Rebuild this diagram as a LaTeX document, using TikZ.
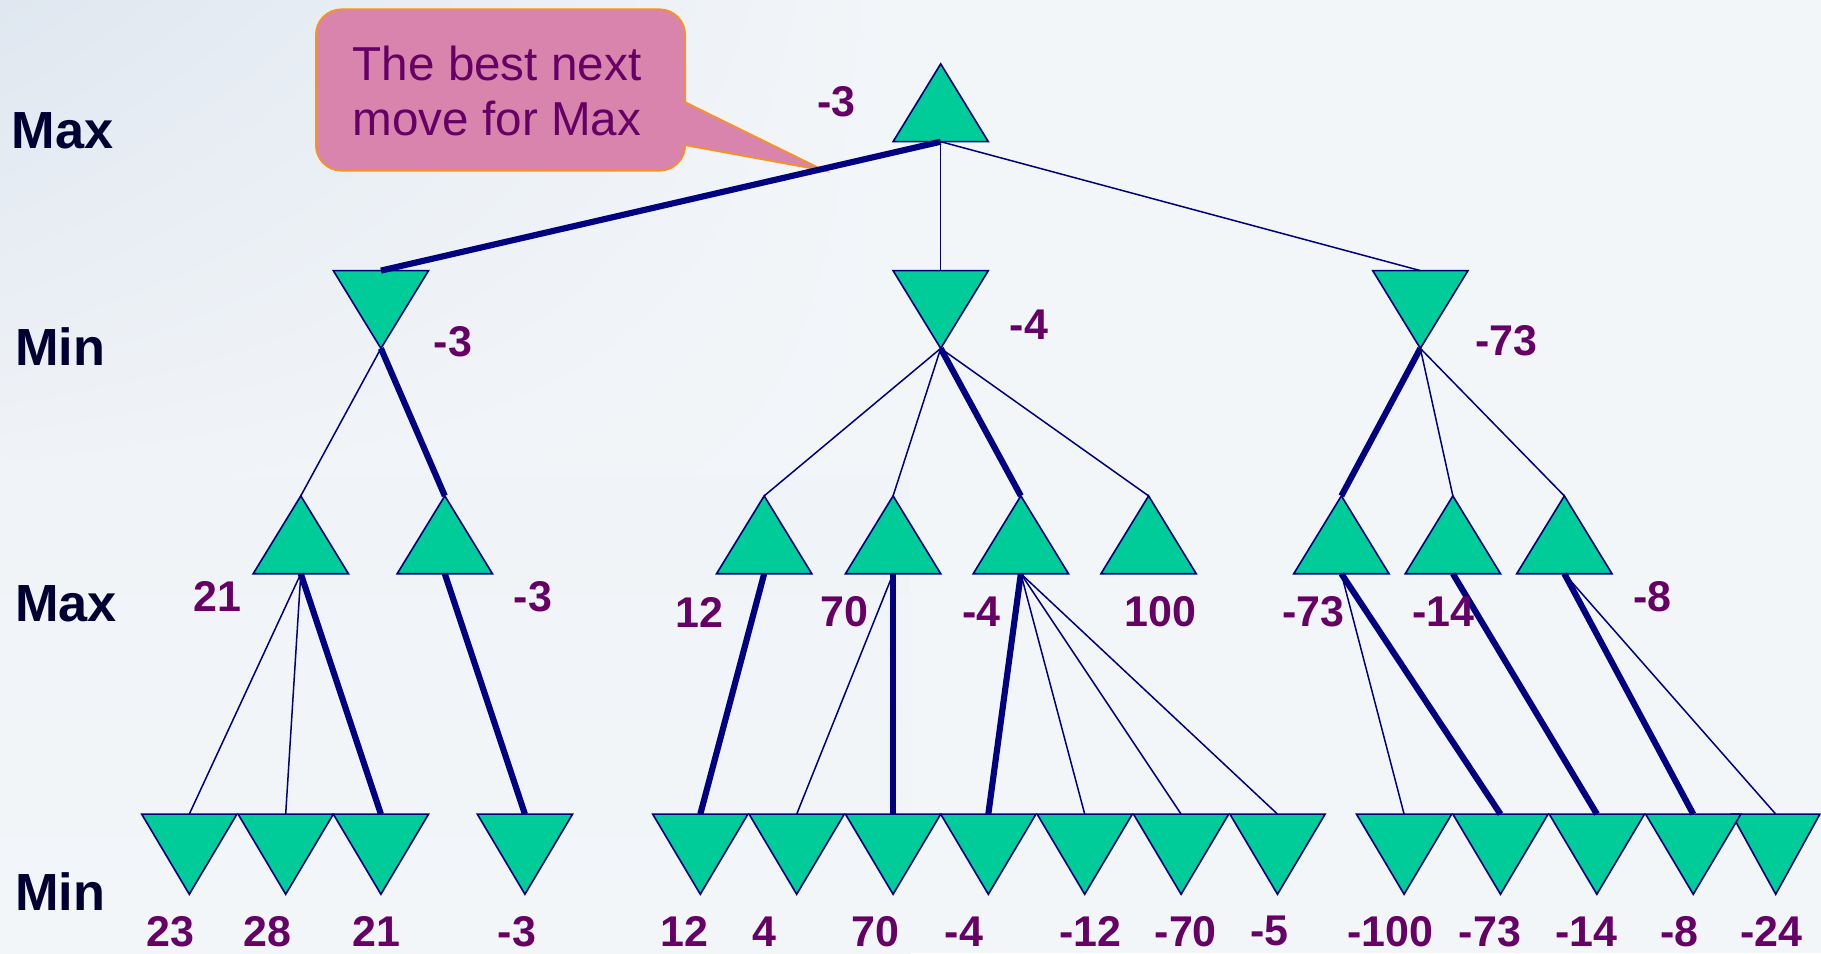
\documentclass[tikz,border=0pt]{standalone}
\usepackage{fontspec}
\setmainfont{Liberation Sans}
\usetikzlibrary{calc,shadings}
\definecolor{bgA}{HTML}{F3F6F9}
\definecolor{bgB}{HTML}{DFE7F0}
\definecolor{bgC}{HTML}{F0F3F7}
\definecolor{tri}{HTML}{00CC99}
\definecolor{navy}{HTML}{000080}
\definecolor{purp}{HTML}{660066}
\definecolor{lvl}{HTML}{000033}
\definecolor{calfill}{HTML}{D884AD}
\definecolor{calline}{HTML}{F7941D}
\tikzset{
  trishape/.style={fill=tri,draw=navy,line width=1.4pt,line join=miter},
  thinE/.style={draw=navy,line width=1.3pt},
  thickE/.style={draw=navy,line width=5.3pt},
  val/.style={text=purp,font=\fontsize{37}{40}\selectfont\bfseries,inner sep=0pt},
  lvltext/.style={text=lvl,font=\fontsize{45}{48}\selectfont\bfseries,inner sep=0pt,anchor=west},
  calbox/.style={fill=calfill,draw=calline,line width=1.5pt,rounded corners=22pt},
}
% up triangle: name, cx, apexY  (apex = name, base centre = name b)
\newcommand\UpTri[3]{%
  \coordinate (#1) at (#2,#3);
  \coordinate (#1b) at (#2,{#3+67});
  \filldraw[trishape] ({#2-41},{#3+67}) -- (#2,#3) -- ({#2+41},{#3+67}) -- cycle;}
% down triangle: name, cx, topY, height, half width (top centre = name, apex = name a)
\newcommand\DnTri[5]{%
  \coordinate (#1) at (#2,#3);
  \coordinate (#1a) at (#2,{#3+#4});
  \filldraw[trishape] ({#2-#5},#3) -- ({#2+#5},#3) -- (#2,{#3+#4}) -- cycle;}
\begin{document}
\begin{tikzpicture}[x=1pt,y=-1pt]
% background
\fill[bgA] (0,0) rectangle (1568,821);
\shade[upper left=bgB,upper right=bgA,lower left=bgC,lower right=bgA] (0,0) rectangle (784,410);
\fill[bgA] (784,0) rectangle (1568,821);
\shade[top color=bgC,bottom color=bgA] (0,410) rectangle (784,821);
\useasboundingbox (0,0) rectangle (1568,821);

% level labels
\node[lvltext] (lab1) at (10,113) {Max};
\node[lvltext] (lab2) at (13,298) {Min};
\node[lvltext] (lab3) at (13,520) {Max};
\node[lvltext] (lab4) at (13,768) {Min};

% callout
\node[calbox,minimum width=318pt,minimum height=139pt,inner sep=0pt] (cb) at (431,77.5) {};
\coordinate (tip) at (710,147);
\coordinate (pu) at (590,88);
\coordinate (pl) at (590,125);
\fill[calfill] (588.5,88) -- (tip) -- (588.5,125) -- cycle;
\draw[calline,line width=1.5pt,line join=miter] (pu) -- (tip) -- (pl);
\node[text=purp,font=\fontsize{41}{47}\selectfont,align=center,inner sep=0pt] (ct) at (428,78.5) {The best next\\move for Max};

% triangles
\UpTri{r}{810}{55}
\DnTri{m1}{328}{233}{67}{41}
\DnTri{m2}{810}{233}{67}{41}
\DnTri{m3}{1223}{233}{67}{41}
\UpTri{x1}{259}{427}
\UpTri{x2}{383}{427}
\UpTri{x3}{658}{427}
\UpTri{x4}{769}{427}
\UpTri{x5}{879}{427}
\UpTri{x6}{989}{427}
\UpTri{x7}{1155}{427}
\UpTri{x8}{1251}{427}
\UpTri{x9}{1347}{427}
\DnTri{l1}{163}{701}{69}{41}
\DnTri{l2}{246}{701}{69}{41}
\DnTri{l3}{328}{701}{69}{41}
\DnTri{l4}{452}{701}{69}{41}
\DnTri{l5}{603}{701}{69}{41}
\DnTri{l6}{686}{701}{69}{41}
\DnTri{l7}{769}{701}{69}{41}
\DnTri{l8}{851}{701}{69}{41}
\DnTri{l9}{934}{701}{69}{41}
\DnTri{l10}{1017}{701}{69}{41}
\DnTri{l11}{1100}{701}{69}{41}
\DnTri{l12}{1209}{701}{69}{41}
\DnTri{l13}{1292}{701}{69}{41}
\DnTri{l14}{1375}{701}{69}{41}
\DnTri{l16}{1529}{701}{69}{38}
\DnTri{l15}{1458}{701}{69}{41}

% edges
\draw[thickE] (rb) -- (m1);
\draw[thinE] (rb) -- (m2);
\draw[thinE] (rb) -- (m3);
\draw[thinE] (m1a) -- (x1);
\draw[thickE] (m1a) -- (x2);
\draw[thinE] (m2a) -- (x3);
\draw[thinE] (m2a) -- (x4);
\draw[thickE] (m2a) -- (x5);
\draw[thinE] (m2a) -- (x6);
\draw[thickE] (m3a) -- (x7);
\draw[thinE] (m3a) -- (x8);
\draw[thinE] (m3a) -- (x9);
\draw[thinE] (x1b) -- (l1);
\draw[thinE] (x1b) -- (l2);
\draw[thickE] (x1b) -- (l3);
\draw[thickE] (x2b) -- (l4);
\draw[thickE] (x3b) -- (l5);
\draw[thinE] (x4b) -- (l6);
\draw[thickE] (x4b) -- (l7);
\draw[thickE] (x5b) -- (l8);
\draw[thinE] (x5b) -- (l9);
\draw[thinE] (x5b) -- (l10);
\draw[thinE] (x5b) -- (l11);
\draw[thinE] (x7b) -- (l12);
\draw[thickE] (x7b) -- (l13);
\draw[thickE] (x8b) -- (l14);
\draw[thickE] (x9b) -- (l15);
\draw[thinE] (x9b) -- (l16);

% values
\node[val] (vr) at (720,88) {-3};
\node[val] (vm1) at (390,294) {-3};
\node[val] (vm2) at (886,280) {-4};
\node[val] (vm3) at (1297,293) {-73};
\node[val] (vx1) at (187,514) {21};
\node[val] (vx2) at (459,514) {-3};
\node[val] (vx3) at (602,527) {12};
\node[val] (vx4) at (727,527) {70};
\node[val] (vx5) at (845,527) {-4};
\node[val] (vx6) at (999,527) {100};
\node[val] (vx7) at (1131,527) {-73};
\node[val] (vx8) at (1243,527) {-14};
\node[val] (vx9) at (1423,514) {-8};
\node[val] (vl1) at (147,802) {23};
\node[val] (vl2) at (230,802) {28};
\node[val] (vl3) at (324,802) {21};
\node[val] (vl4) at (445,802) {-3};
\node[val] (vl5) at (589,802) {12};
\node[val] (vl6) at (658,802) {4};
\node[val] (vl7) at (754,802) {70};
\node[val] (vl8) at (830,802) {-4};
\node[val] (vl9) at (939,802) {-12};
\node[val] (vl10) at (1021,802) {-70};
\node[val] (vl11) at (1093,802) {-5};
\node[val] (vl12) at (1197,802) {-100};
\node[val] (vl13) at (1283,802) {-73};
\node[val] (vl14) at (1366,802) {-14};
\node[val] (vl15) at (1446,802) {-8};
\node[val] (vl16) at (1525,802) {-24};
\end{tikzpicture}
\end{document}
